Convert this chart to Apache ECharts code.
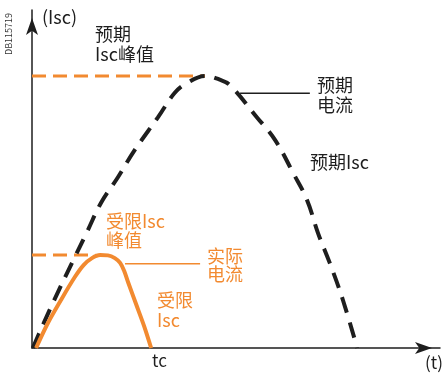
<!DOCTYPE html>
<html>
<head>
<meta charset="utf-8">
<script src="https://cdn.jsdelivr.net/npm/echarts@6/dist/echarts.min.js"></script>
<style>
  html, body { margin: 0; padding: 0; background: #fff; }
  #chart { width: 445px; height: 374px; }
</style>
</head>
<body>
<div id="chart"></div>
<script>
// 时间 t、电流 Isc 均为相对单位(0~100)
const prospective = [
  [0.2, 0], [5.1, 13.3], [10.5, 26.9], [13.7, 34.9], [16.9, 42.9], [21.1, 50.6],
  [25.2, 58.6], [30.9, 68.3], [35, 75.5], [38.0, 78.4], [42.4, 80.5], [46, 79.4], [48.5, 77.8],
  [55.1, 68.3], [59.6, 61.5], [64.0, 51.8], [67.4, 43.8], [70.1, 34.0],
  [73.0, 25.1], [76.2, 14.2], [79.7, 0]
]
const limited = [
  [1.0, 0], [3.9, 7.4], [7.1, 14.2], [10.5, 21.0], [12.7, 24.6], [14.7, 26.6],
  [16.7, 27.5], [18.6, 27.4], [20.3, 26.6], [21.6, 25.2], [22.6, 22.8],
  [23.6, 19.3], [25.5, 13.0], [27.5, 6.4], [29.2, 0]
]
const prospectivePeak = [[0, 80.5], [42.4, 80.5]]
const limitedPeak = [[0, 27.5], [15.5, 27.5]]
const prospectiveLeader = [[51.0, 75.4], [68.1, 75.4]]
const limitedLeader = [[22.8, 24.9], [41.2, 24.9]]

const INK = '#1e1e1e'
const ORANGE = '#f28a30'
const FONT = '"Noto Sans CJK SC", "Noto Sans", sans-serif'

function txt(x, y, text, color, size, lh) {
  return {
    type: 'text', left: x, top: y,
    style: { text, fill: color, font: `${size}px ${FONT}`, lineHeight: lh || 20 }
  }
}

function lineSeries(data, color, width, type, smooth) {
  return {
    type: 'line', data, smooth: smooth || false,
    showSymbol: false, silent: true,
    lineStyle: { color, width, type: type || 'solid', cap: 'butt' }
  }
}

const arrowAxis = {
  type: 'value', min: 0, max: 100,
  axisLine: {
    show: true,
    lineStyle: { color: INK, width: 1.5 },
    symbol: ['none', 'arrow'], symbolSize: [9, 17], symbolOffset: [0, -8]
  },
  axisTick: { show: false }, axisLabel: { show: false }, splitLine: { show: false }
}

const chart = echarts.init(document.getElementById('chart'), null, { renderer: 'canvas' })
chart.setOption({
  animation: false,
  grid: { left: 32, right: 5, top: 10, bottom: 26 },
  xAxis: arrowAxis,
  yAxis: arrowAxis,
  series: [
    lineSeries(prospectivePeak, ORANGE, 3, [14, 7]),
    lineSeries(limitedPeak, ORANGE, 3, [14, 7]),
    lineSeries(prospective, INK, 4, [16, 10], 0.4),
    lineSeries(limited, ORANGE, 4, 'solid', 0.3),
    lineSeries(prospectiveLeader, INK, 1.5),
    lineSeries(limitedLeader, ORANGE, 1.5)
  ],
  graphic: [
    {
      type: 'text', x: 4, y: 55, rotation: Math.PI / 2,
      style: { text: 'DB115719', fill: '#333', font: `9px ${FONT}` }
    },
    txt(42, 7, '(Isc)', INK, 18),
    txt(95, 24, '预期\nIsc峰值', INK, 18, 20),
    txt(317, 75, '预期\n电流', INK, 18, 20),
    txt(310, 152, '预期Isc', INK, 18),
    txt(106, 212, '受限Isc\n峰值', ORANGE, 18, 19),
    txt(207, 247, '实际\n电流', ORANGE, 18, 18),
    txt(157, 290, '受限\nIsc', ORANGE, 18, 20),
    txt(152, 351, 'tc', INK, 17),
    txt(425, 353, '(t)', INK, 17)
  ]
})
</script>
</body>
</html>
